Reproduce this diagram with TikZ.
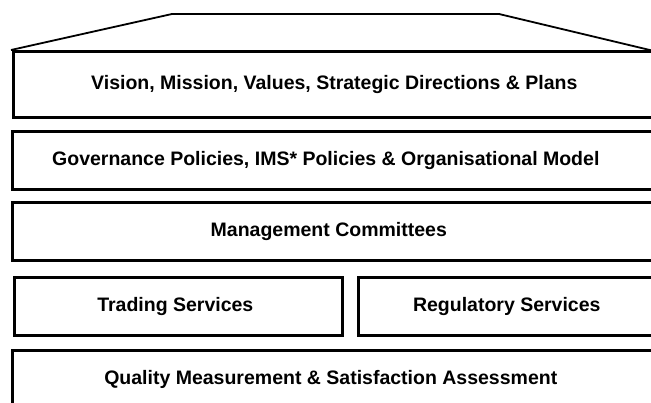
\documentclass[tikz,border=0pt]{standalone}
\usepackage{fontspec}
\setmainfont{Liberation Sans}
\begin{document}
\begin{tikzpicture}[x=1pt,y=-1pt,
  layer/.style={draw, line width=2.6pt, rectangle, anchor=north west, inner sep=0pt,
    font=\bfseries\fontsize{19.5}{23}\selectfont, align=center},
  roof/.style={draw, line width=1.8pt, line join=miter}]
\useasboundingbox (0,0) rectangle (651,403);
\clip (0,0) rectangle (651,403);
% roof
\coordinate (rl) at (11,50);
\coordinate (rtl) at (172,14);
\coordinate (rtr) at (499,14);
\coordinate (rr) at (654,51);
\draw[roof] (rl) -- (rtl) -- (rtr) -- (rr);
% layers
\node[layer, minimum width=642pt, minimum height=66pt] (vision) at (12,50)
  {Vision, Mission, Values, Strategic Directions \& Plans};
\node[layer, minimum width=643pt, minimum height=58pt] (gov) at (11,130)
  {\hspace*{-16pt}Governance Policies, IMS* Policies \& Organisational Model};
\node[layer, minimum width=643pt, minimum height=58pt] (mgmt) at (11,201)
  {\hspace*{-10pt}Management Committees};
\node[layer, minimum width=328pt, minimum height=58pt] (trade) at (13,276)
  {\hspace*{-6pt}Trading Services};
\node[layer, minimum width=297pt, minimum height=58pt] (reg) at (357,276)
  {Regulatory Services};
\node[layer, minimum width=643pt, minimum height=58pt] (qual) at (11,349)
  {\hspace*{-6pt}Quality Measurement \& Satisfaction Assessment};
\end{tikzpicture}
\end{document}
